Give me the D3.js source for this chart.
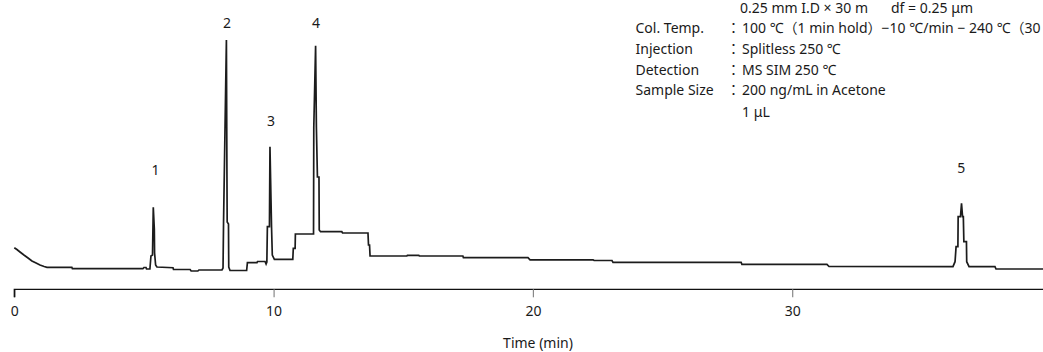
<!DOCTYPE html>
<html>
<head>
<meta charset="utf-8">
<script src="https://cdn.jsdelivr.net/npm/d3@7"></script>
<style>
  html, body { margin: 0; padding: 0; background: #fff; }
  svg { display: block; font-family: "Noto Sans", "Noto Sans CJK JP", sans-serif; }
</style>
</head>
<body>
<svg id="chart" width="1043" height="352"></svg>
<script>
// ---- data (time in min, detector response in arbitrary units) ----
const times = [0, 0.10, 0.22, 0.37, 0.53, 0.68, 0.84, 0.99, 1.15, 1.26, 2.22, 2.24, 4.96, 5.00, 5.08, 5.10, 5.23,
  5.27, 5.33, 5.36, 5.40, 5.41, 5.45, 5.50, 6.12, 6.14, 6.78, 6.82, 7.08, 7.12, 8.01,
  8.05, 8.07, 8.10, 8.18, 8.20, 8.21, 8.26, 8.27, 8.32, 8.96, 8.99, 9.36, 9.38, 9.67, 9.71,
  9.74, 9.76, 9.84, 9.86, 9.90, 9.92, 9.95, 10.03, 10.74, 10.76, 10.83, 10.84, 11.54,
  11.55, 11.62, 11.65, 11.69, 11.75, 11.76, 11.81, 12.63, 12.66, 13.64, 13.66, 13.70, 13.72,
  15.14, 15.16, 15.60, 15.62, 17.30, 17.32, 19.81, 19.89, 22.32, 22.36, 23.05, 23.09, 28.03, 28.06,
  31.34, 31.42, 36.20, 36.28, 36.32, 36.39, 36.40, 36.49, 36.53, 36.57, 36.60, 36.62, 36.72,
  36.73, 36.82, 37.82, 37.86, 40];
const response = [41.6, 39.8, 37.3, 34.3, 31.3, 28.3, 26.3, 24.3, 22.8, 22.0, 22.0, 20.6, 20.6, 21.8, 21.8, 20.3, 20.3,
  33.3, 34.3, 82.0, 60.3, 36.3, 24.3, 22.3, 21.6, 19.8, 19.8, 18.3, 18.3, 19.3, 19.3,
  21.3, 67.3, 117.3, 249.3, 117.3, 67.3, 65.3, 22.3, 18.8, 18.8, 26.6, 26.6, 27.8, 27.8, 25.3,
  27.3, 62.6, 62.6, 142.6, 89.3, 62.6, 34.3, 30.0, 30.0, 41.0, 41.0, 55.3, 55.3,
  162.3, 243.6, 162.3, 112.3, 112.3, 59.3, 57.6, 57.6, 56.3, 56.3, 44.3, 44.3, 33.3,
  33.3, 34.0, 34.0, 33.3, 33.3, 31.6, 31.6, 29.5, 29.5, 28.8, 28.8, 27.0, 27.0, 25.0,
  25.0, 22.8, 22.6, 27.6, 42.6, 42.6, 72.6, 72.6, 86.0, 72.6, 72.6, 47.6, 47.6,
  27.6, 22.6, 22.6, 20.3, 20.3];

const peakLabels = ["1", "2", "3", "4", "5"];
const peakLabelTimes = [5.45, 8.20, 9.90, 11.64, 36.52];
const peakLabelLevels = [114, 261, 163, 261, 116];

const xTicks = [0, 10, 20, 30];
const xTitle = "Time (min)";

const infoLabels = ["", "Col. Temp.", "Injection", "Detection", "Sample Size", ""];
const infoValues = ["0.25 mm I.D × 30 m", "100 ℃（1 min hold）−10 ℃/min − 240 ℃（30 min hold）",
  "Splitless 250 ℃", "MS SIM 250 ℃", "200 ng/mL in Acetone", "1 μL"];
const infoColons = [false, true, true, true, true, false];
const infoExtra = "df = 0.25 μm";

// ---- drawing ----
const svg = d3.select("#chart");
const x = d3.scaleLinear().domain([0, 40]).range([14.3, 1051.5]);
const y = d3.scaleLinear().domain([0, 250]).range([289.3, 39.3]);

const pts = times.map((t, i) => [t, response[i]]);
const line = d3.line().x(d => x(d[0])).y(d => y(d[1]));

svg.append("path")
  .datum(pts)
  .attr("d", line)
  .attr("fill", "none")
  .attr("stroke", "#1c1c1c")
  .attr("stroke-width", 1.7)
  .attr("stroke-linejoin", "miter");

// peak labels
svg.selectAll("text.peak")
  .data(peakLabels)
  .enter().append("text")
  .attr("class", "peak")
  .attr("x", (d, i) => x(peakLabelTimes[i]))
  .attr("y", (d, i) => y(peakLabelLevels[i]))
  .attr("text-anchor", "middle")
  .attr("font-size", 14)
  .attr("fill", "#1a1a1a")
  .text(d => d);

// x axis
const axis = d3.axisBottom(x).tickValues(xTicks).tickSize(8).tickPadding(6).tickSizeOuter(0);
const gx = svg.append("g").attr("transform", "translate(0,289.3)").call(axis);
gx.select(".domain").attr("stroke", "#111").attr("stroke-width", 1.3)
  .attr("d", `M${x(0)},8V0H1043`);
gx.selectAll(".tick line").attr("stroke", "#888").attr("stroke-width", 1.2);
gx.selectAll(".tick").filter(d => d === 0).select("line").attr("stroke", "#111");
gx.selectAll(".tick text")
  .attr("font-size", 14)
  .attr("font-family", "Noto Sans, sans-serif")
  .attr("fill", "#1a1a1a")
  .attr("dy", "0.9em");

svg.append("text")
  .attr("x", 538)
  .attr("y", 348)
  .attr("text-anchor", "middle")
  .attr("font-size", 14)
  .attr("fill", "#1a1a1a")
  .text(xTitle);

// method info block
const info = svg.append("g").attr("font-size", 14).attr("fill", "#1a1a1a");
const baseY = [12.5, 33.3, 54.3, 74.8, 95.3, 116.5];
infoLabels.forEach((lab, i) => {
  if (lab) info.append("text").attr("x", 635.5).attr("y", baseY[i]).text(lab);
  if (infoColons[i]) info.append("text").attr("x", 733.5).attr("y", baseY[i])
    .attr("text-anchor", "middle").attr("font-family", "Noto Sans CJK JP").text("：");
  info.append("text").attr("x", i === 0 ? 740 : 742).attr("y", baseY[i]).text(infoValues[i]);
});
info.append("text").attr("x", 891).attr("y", baseY[0]).text(infoExtra);
</script>
</body>
</html>
